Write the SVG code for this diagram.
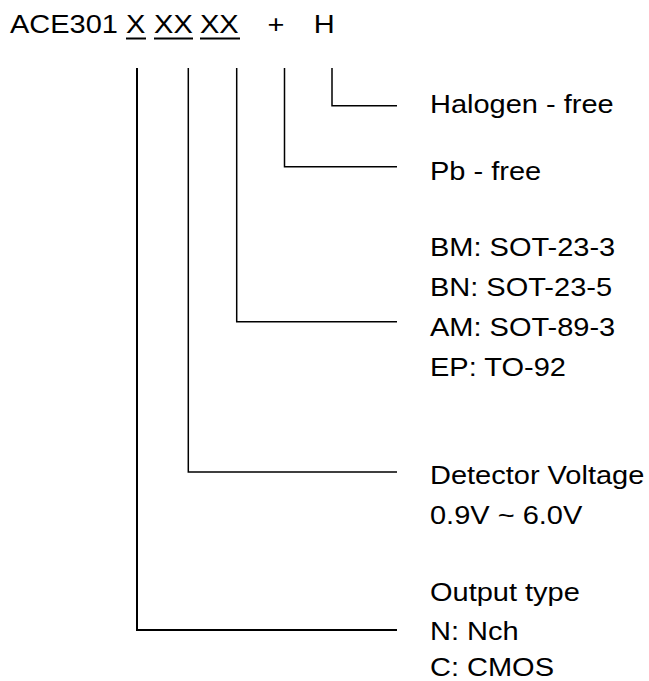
<svg xmlns="http://www.w3.org/2000/svg" width="649" height="681" viewBox="0 0 649 681">
<style>
.t{font-family:"Liberation Sans",Arial,sans-serif;font-size:25px;fill:#000}
.c{stroke:#000;stroke-width:1.5;fill:none}
.u{stroke:#000;stroke-width:2;fill:none}
</style>
<rect width="649" height="681" fill="#fff"/>
<g id="part-number">
<g transform="scale(1.16,1)">
<text class="t" x="8.6" y="33">ACE301</text>
<text class="t" x="108.6" y="33">X</text>
<text class="t" x="132.8" y="33">XX</text>
<text class="t" x="172.4" y="33">XX</text>
<text class="t" x="230.6" y="33">+</text>
<text class="t" x="270.4" y="33">H</text>
</g>
<line class="u" x1="126" y1="38.5" x2="146" y2="38.5"/>
<line class="u" x1="154" y1="38.5" x2="193" y2="38.5"/>
<line class="u" x1="200" y1="38.5" x2="240" y2="38.5"/>
</g>
<g id="connectors">
<polyline class="c" points="332,68 332,105.7 397,105.7"/>
<polyline class="c" points="284.5,68 284.5,166.7 397,166.7"/>
<polyline class="c" points="236.7,68 236.7,321.7 397,321.7"/>
<polyline class="c" points="188.3,68 188.3,472 397,472"/>
<polyline class="u" points="137,68 137,630 397,630"/>
</g>
<g transform="scale(1.16,1)">
<g id="halogen"><text class="t" x="370.7" y="113">Halogen - free</text></g>
<g id="pb"><text class="t" x="370.7" y="180">Pb - free</text></g>
<g id="package">
<text class="t" x="370.7" y="256">BM: SOT-23-3</text>
<text class="t" x="370.7" y="296">BN: SOT-23-5</text>
<text class="t" x="370.7" y="336">AM: SOT-89-3</text>
<text class="t" x="370.7" y="376">EP: TO-92</text>
</g>
<g id="voltage">
<text class="t" x="370.7" y="484">Detector Voltage</text>
<text class="t" x="370.7" y="524">0.9V ~ 6.0V</text>
</g>
<g id="output">
<text class="t" x="370.7" y="601">Output type</text>
<text class="t" x="370.7" y="640">N: Nch</text>
<text class="t" x="370.7" y="676">C: CMOS</text>
</g>
</g>
</svg>
